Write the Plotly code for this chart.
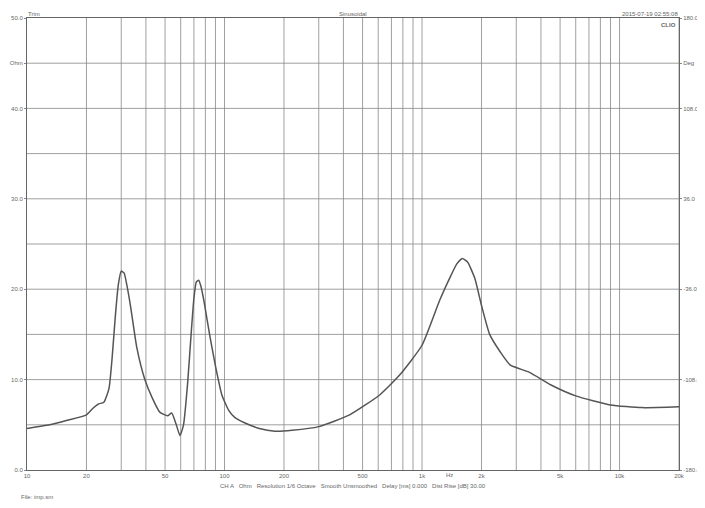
import plotly.graph_objects as go

freq = [10, 13, 16, 20, 21.5, 23, 24.5, 26, 27, 28, 29, 30, 31, 32, 33.5, 36, 39.5, 43, 47, 51.5, 54, 57, 59.5, 62, 65, 68, 70, 72, 74, 76, 79, 84, 90, 97, 105, 113, 127, 150, 180, 220, 300, 430, 610, 770, 1000, 1230, 1400, 1500, 1600, 1700, 1850, 2000, 2200, 2500, 2800, 3500, 4500, 6000, 9000, 13000, 20000]
ohm = [4.6, 5.0, 5.5, 6.1, 6.8, 7.3, 7.5, 9.0, 12.5, 17, 20.5, 22.0, 21.8, 20.5, 18, 13.5, 10, 8, 6.4, 6.0, 6.3, 5.0, 3.8, 5.0, 9.5, 15.5, 19, 20.8, 21.0, 20.3, 18.5, 15.0, 11.5, 8.3, 6.6, 5.8, 5.2, 4.6, 4.3, 4.4, 4.8, 6.1, 8.3, 10.5, 13.8, 18.8, 21.5, 22.8, 23.4, 23.0, 21.2, 18.2, 15.0, 13.0, 11.6, 10.8, 9.4, 8.2, 7.2, 6.9, 7.0]

xticks = [10, 20, 50, 100, 200, 500, 1000, 2000, 5000, 10000, 20000]
xlabels = ["10", "20", "50", "100", "200", "500", "1k", "2k", "5k", "10k", "20k"]
xgrid = [20, 30, 40, 50, 60, 70, 80, 90, 100, 200, 300, 400, 500, 600, 700, 800, 900, 1000, 2000, 3000, 4000, 5000, 6000, 7000, 8000, 9000, 10000, 20000]
yticks = [0, 10, 20, 30, 40, 45, 50]
ylabels = ["0.0", "10.0", "20.0", "30.0", "40.0", "Ohm", "50.0"]
rlabels = ["-180.0", "-108.0", "-36.0", "36.0", "108.0", "Deg", "180.0"]

fig = go.Figure()
fig.add_trace(go.Scatter(x=freq, y=ohm, mode="lines", line=dict(color="#555", width=1.5, shape="spline", smoothing=0.5), showlegend=False))
fig.add_trace(go.Scatter(x=[10, 20000], y=[0, 50], mode="markers", marker=dict(opacity=0), yaxis="y2", showlegend=False, hoverinfo="skip"))

for g in xgrid:
    fig.add_shape(type="line", x0=g, x1=g, y0=0, y1=50, xref="x", yref="y", line=dict(color="#888", width=0.8), layer="below")
for v in range(5, 50, 5):
    fig.add_shape(type="line", x0=10, x1=20000, y0=v, y1=v, xref="x", yref="y", line=dict(color="#888", width=0.8), layer="below")

fnt = dict(family="Liberation Sans", size=6, color="#666")
fig.update_layout(
    width=705, height=508, paper_bgcolor="white", plot_bgcolor="white",
    margin=dict(l=19, r=34, t=10, b=46, autoexpand=False),
    xaxis=dict(type="log", range=[1, 4.30103], tickvals=xticks, ticktext=xlabels, showgrid=False, zeroline=False,
               showline=True, linecolor="#666", mirror=True, tickfont=fnt, ticks="", automargin=False),
    yaxis=dict(range=[0, 50], tickvals=yticks, ticktext=ylabels, showgrid=False, zeroline=False, automargin=False,
               showline=True, linecolor="#666", tickfont=fnt, ticks="outside", ticklen=2, tickcolor="#888"),
    yaxis2=dict(range=[0, 50], overlaying="y", side="right", tickvals=yticks, ticktext=rlabels, showgrid=False, automargin=False,
                zeroline=False, showline=True, linecolor="#666", tickfont=fnt, ticks="outside", ticklen=2, tickcolor="#888"),
)
def ann(text, x, y, xa="center", bold=False, ya="middle"):
    fig.add_annotation(text=("<b>%s</b>" % text) if bold else text, x=x, y=y, xref="paper", yref="paper",
                       showarrow=False, xanchor=xa, yanchor=ya, font=fnt, borderpad=0)
ann("Trim", 0.0, 1.0, "left", ya="bottom")
ann("Sinusoidal", 0.5, 1.0, ya="bottom")
ann("2015-07-19 02:55:08", 1.0, 1.0, "right", ya="bottom")
ann("CLIO", 0.997, 0.985, "right", True)
ann("Hz", 0.648, -0.01)
ann("CH A   Ohm   Resolution 1/6 Octave   Smooth Unsmoothed   Delay [ms] 0.000   Dist Rise [dB] 30.00", 0.5, -0.035)
ann("File: imp.sm", -0.01, -0.06, "left")
fig.write_html("out.html")
